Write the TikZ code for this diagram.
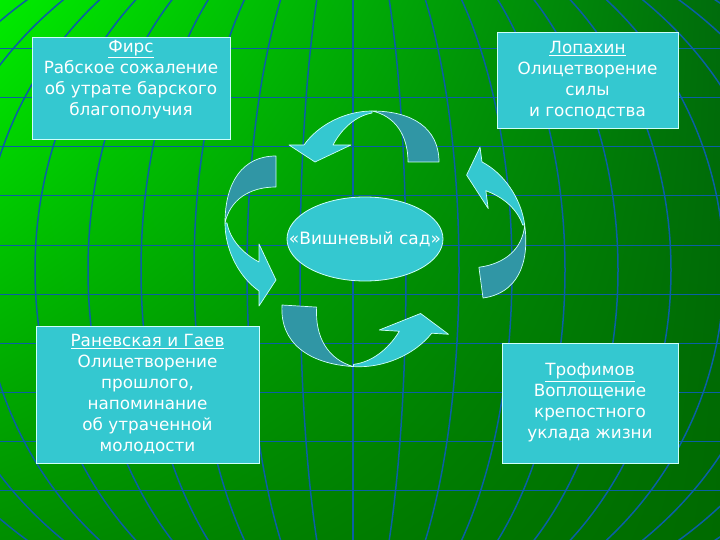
\documentclass[tikz,border=0pt]{standalone}
\usepackage{fontspec}
\setmainfont{DejaVu Sans}
\usetikzlibrary{shapes.geometric, shadings}

\definecolor{turq}{RGB}{52,200,208}
\definecolor{tealdark}{RGB}{48,150,165}
\definecolor{rim}{RGB}{205,255,250}
\definecolor{gridblue}{RGB}{10,95,165}
\definecolor{bgul}{RGB}{0,236,0}
\definecolor{bgur}{RGB}{0,108,12}
\definecolor{bgll}{RGB}{0,142,0}
\definecolor{bglr}{RGB}{0,106,0}

\begin{document}
\begin{tikzpicture}[x=1pt, y=-1pt]
\tikzstyle{card}=[rectangle, fill=turq, draw=rim, line width=0.8pt, text=white, align=center, font=\fontsize{16.8}{21}\selectfont, inner sep=2pt]
\tikzstyle{oval}=[ellipse, fill=turq, draw=rim, line width=0.8pt, text=white, inner sep=0pt, font=\fontsize{17}{20}\selectfont]
\tikzstyle{lightpart}=[fill=turq, draw=rim, line width=0.7pt, line join=round]
\tikzstyle{darkpart}=[fill=tealdark, draw=rim, line width=0.7pt, line join=round]
\tikzstyle{meridian}=[draw=gridblue, line width=1.5pt]
\tikzstyle{parallel}=[draw=gridblue, line width=1pt]
    \useasboundingbox (0,0) rectangle (720,540);
    \shade[upper left=bgul, upper right=bgur, lower left=bgll, lower right=bglr] (0,0) rectangle (720,540);
    % globe lines
    \begin{scope}
        \clip (0,0) rectangle (720,540);
        \foreach \k in {1,...,14}
            \draw[meridian] (353,270) ellipse [x radius={53*\k pt}, y radius=370pt];
        \draw[meridian] (353,-10) -- (353,550);
        \foreach \r in {1,...,10}
            \draw[parallel] (0,{49*\r}) -- (720,{49*\r});
    \end{scope}
    % the four turning arrows
    \foreach \px/\py/\ang/\sc in {439/162/0/1, 276/156/90/1, 282/305/176.5/1.12, 483/298/-82.4/1}{
        \begin{scope}[shift={(\px,\py)}, rotate=\ang, scale=\sc]
            \path[darkpart] (-31,0) -- (0,0) .. controls (0,-34) and (-27,-51) .. (-67,-51)
                .. controls (-44,-46) and (-31,-27) .. (-31,0) -- cycle;
            \path[lightpart] (-67,-51) .. controls (-94,-51) and (-121,-37) .. (-135,-17)
                -- (-150,-17) -- (-124,0) -- (-88,-17) -- (-106,-17)
                .. controls (-97,-34) and (-83,-46) .. (-67,-49) -- cycle;
        \end{scope}
    }
    \node[card, minimum width=198pt, minimum height=102pt, text depth=20pt] (firs) at (131,88)
        {\underline{Фирс}\\Рабское сожаление\\об утрате барского\\благополучия};
    \node[card, minimum width=181pt, minimum height=96pt] (lopakhin) at (587.5,80)
        {\underline{Лопахин}\\Олицетворение\\силы\\и господства};
    \node[card, minimum width=223pt, minimum height=137pt] (ranevskaya) at (147.5,394.5)
        {\underline{Раневская и Гаев}\\Олицетворение\\прошлого,\\напоминание\\об утраченной\\молодости};
    \node[card, minimum width=176pt, minimum height=120pt] (trofimov) at (590,403)
        {\underline{Трофимов}\\Воплощение\\крепостного\\уклада жизни};
    \node[oval, minimum width=156pt, minimum height=84pt] (garden) at (365,239) {\makebox[0pt]{«Вишневый сад»}};
\end{tikzpicture}
\end{document}
